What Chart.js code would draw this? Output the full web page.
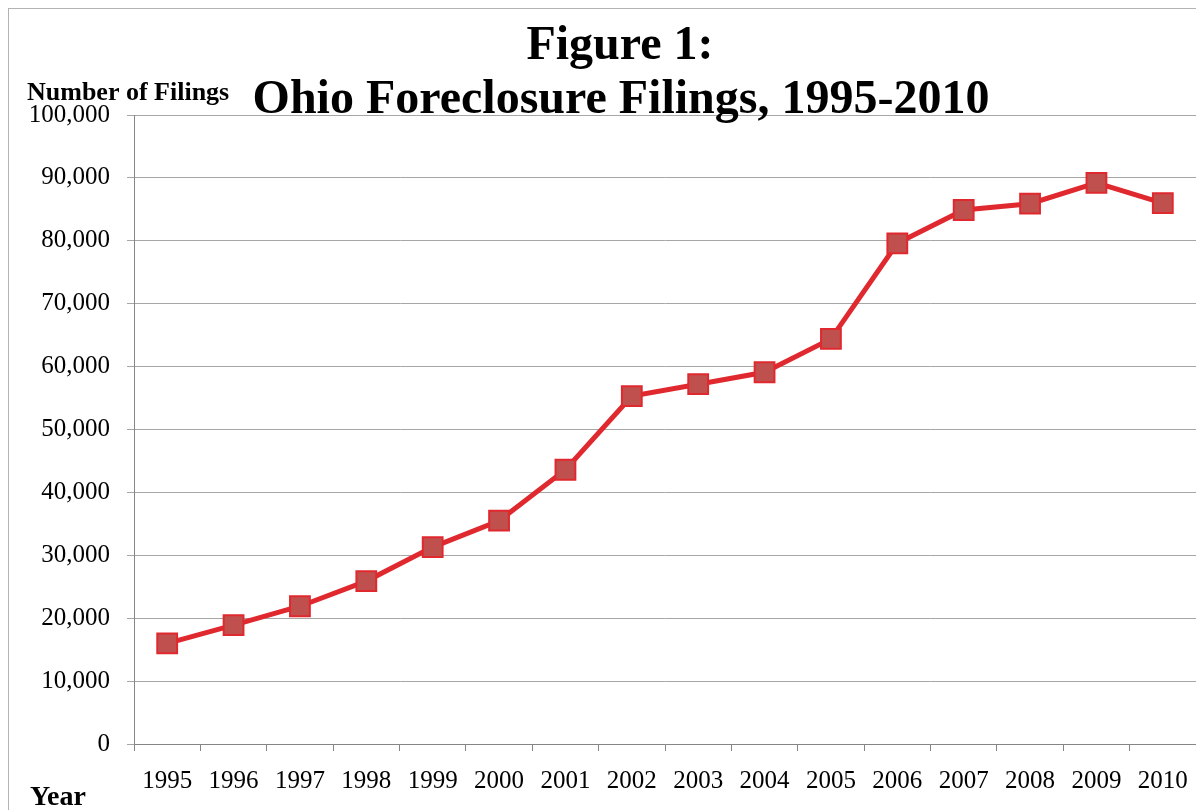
<!DOCTYPE html>
<html lang="en">
<head>
    <meta charset="UTF-8">
    <title>Ohio Foreclosure Filings</title>
    <script src="https://cdn.jsdelivr.net/npm/chart.js"></script>
    <style>
        html, body { margin: 0; padding: 0; background: #fff; overflow: hidden; }
        canvas { display: block; }
    </style>
</head>
<body>
    <canvas id="myChart" width="1196" height="810"></canvas>

    <script>
        // datos
        const years = ['1995', '1996', '1997', '1998', '1999', '2000', '2001', '2002',
                       '2003', '2004', '2005', '2006', '2007', '2008', '2009', '2010'];
        const filings = [16000, 18900, 21900, 25900, 31300, 35500, 43600, 55300,
                         57200, 59100, 64400, 79600, 84900, 85900, 89200, 86000];
        const titleLines = ['Figure 1:', 'Ohio Foreclosure Filings, 1995-2010'];
        const yLabel = 'Number of Filings';
        const xLabel = 'Year';

        const serif = '"Liberation Serif", "Times New Roman", serif';

        // textos y borde exterior
        const extras = {
            id: 'extras',
            beforeDraw(chart) {
                const ctx = chart.ctx;
                ctx.save();
                ctx.strokeStyle = '#b3b3b3';
                ctx.lineWidth = 1;
                ctx.strokeRect(8.5, 8.5, 1400, 1000);
                ctx.restore();
            },
            afterDraw(chart) {
                const ctx = chart.ctx;
                ctx.save();
                ctx.fillStyle = '#000';
                ctx.textAlign = 'center';
                ctx.textBaseline = 'alphabetic';
                ctx.font = 'bold 48px ' + serif;
                ctx.fillText(titleLines[0], 620, 59);
                ctx.fillText(titleLines[1], 621, 113);
                ctx.textAlign = 'left';
                ctx.font = 'bold 26px ' + serif;
                ctx.fillText(yLabel, 27, 100);
                ctx.font = 'bold 28px ' + serif;
                ctx.fillText(xLabel, 30, 805);
                ctx.restore();
            }
        };

        const ctx = document.getElementById('myChart').getContext('2d');
        new Chart(ctx, {
            type: 'line',
            data: {
                labels: years,
                datasets: [{
                    data: filings,
                    borderColor: '#e0292f',
                    borderWidth: 5,
                    pointStyle: 'rect',
                    pointRadius: 14,
                    pointHoverRadius: 14,
                    pointBackgroundColor: '#c0504d',
                    pointBorderColor: '#e0292f',
                    pointBorderWidth: 2,
                    tension: 0
                }]
            },
            options: {
                responsive: false,
                animation: false,
                layout: {
                    autoPadding: false,
                    padding: { top: 115, left: 0, right: 0, bottom: 0 }
                },
                plugins: {
                    legend: { display: false },
                    tooltip: { enabled: false }
                },
                scales: {
                    x: {
                        offset: true,
                        afterFit(scale) {
                            scale.height = 66;
                            scale.paddingLeft = 0;
                            scale.paddingRight = 0;
                        },
                        grid: {
                            offset: true,
                            drawOnChartArea: false,
                            color: '#868686',
                            tickLength: 7
                        },
                        border: { color: '#868686' },
                        ticks: {
                            color: '#000',
                            padding: 15,
                            maxRotation: 0,
                            font: { family: serif, size: 25 }
                        }
                    },
                    y: {
                        min: 0,
                        max: 100000,
                        afterFit(scale) {
                            scale.width = 134;
                            scale.paddingTop = 0;
                            scale.paddingBottom = 0;
                        },
                        grid: {
                            color: '#a6a6a6',
                            tickLength: 7
                        },
                        border: { color: '#868686' },
                        ticks: {
                            stepSize: 10000,
                            color: '#000',
                            padding: 17,
                            font: { family: serif, size: 25 },
                            callback: v => v.toLocaleString('en-US')
                        }
                    }
                }
            },
            plugins: [extras]
        });
    </script>
</body>
</html>
